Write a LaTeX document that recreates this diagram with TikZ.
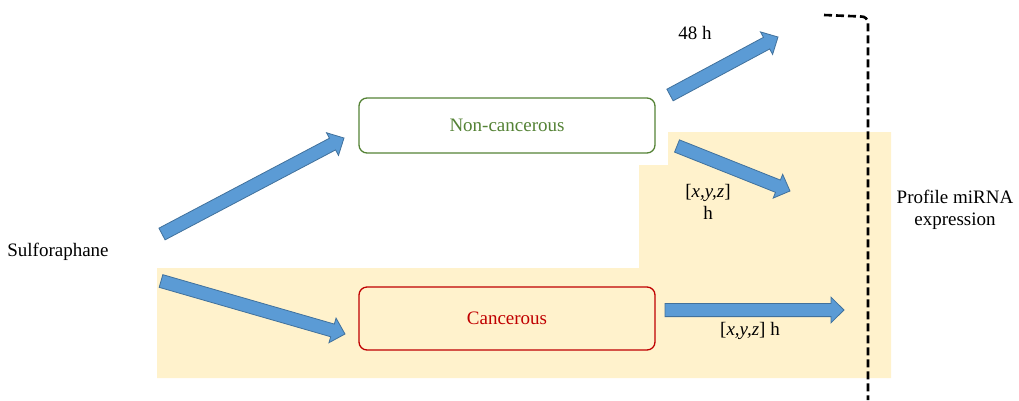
\documentclass[tikz,border=0pt]{standalone}
\usepackage{fontspec}
\setmainfont{Liberation Serif}
\usetikzlibrary{calc}
\definecolor{arrfill}{HTML}{5B9BD5}
\definecolor{arrline}{HTML}{41719C}
\definecolor{bgyellow}{HTML}{FFF2CC}
\definecolor{boxgreen}{HTML}{548235}
\definecolor{boxred}{HTML}{C00000}
\newcommand{\blockarr}[2]{%
  \coordinate (tmpH) at ($(#2)!13pt!(#1)$);
  \filldraw[blockarrow]
    ($(#1)!6.6pt!90:(#2)$) -- ($(tmpH)!6.6pt!90:(#2)$) -- ($(tmpH)!12.8pt!90:(#2)$)
    -- (#2) -- ($(tmpH)!12.8pt!-90:(#2)$) -- ($(tmpH)!6.6pt!-90:(#2)$)
    -- ($(#1)!6.6pt!-90:(#2)$) -- cycle;}
\begin{document}
\begin{tikzpicture}[x=1pt,y=-1pt,
  every node/.style={font=\fontsize{19}{22.5}\selectfont},
  blockarrow/.style={fill=arrfill,draw=arrline,line width=0.8pt,line join=miter},
  stagebox/.style={draw,rounded corners=8pt,line width=1.3pt,minimum width=296pt,inner sep=0pt},
  label/.style={align=center,inner sep=0pt},
  bracket/.style={draw=black,line width=2.6pt,dash pattern=on 8pt off 4pt}]
\useasboundingbox (0,0) rectangle (1019,400);
% background region
\fill[bgyellow] (668,132) -- (891,132) -- (891,378) -- (157,378) -- (157,268)
  -- (639,268) -- (639,165) -- (668,165) -- cycle;
% bracket
\draw[bracket] (824,15) -- (861,16.5) to[out=5,in=90] (868,23) -- (868,400);
% boxes
\node[stagebox,draw=boxgreen,text=boxgreen,minimum height=55pt] (noncanc) at (507,125.5) {Non-cancerous};
\node[stagebox,draw=boxred,text=boxred,minimum height=63pt] (canc) at (507,318.5) {Cancerous};
% texts
\node[label] (sulf) at (58,252) {Sulforaphane};
\node[label] (t48) at (695,33) {48 h};
\node[label] (txyz1) at (708,202) {[\textit{x,y,z}]\\h};
\node[label] (txyz2) at (750,331) {[\textit{x,y,z}] h};
\node[label] (prof) at (955,210) {Profile miRNA\\expression};
% arrow end points
\coordinate (a1s) at (162,234); \coordinate (a1e) at (344,138);
\coordinate (a2s) at (161,281); \coordinate (a2e) at (345,334);
\coordinate (a3s) at (670,95);  \coordinate (a3e) at (778,37);
\coordinate (a4s) at (677,146); \coordinate (a4e) at (790,191);
\coordinate (a5s) at (665,310); \coordinate (a5e) at (844,310);
\blockarr{a1s}{a1e}
\blockarr{a2s}{a2e}
\blockarr{a3s}{a3e}
\blockarr{a4s}{a4e}
\blockarr{a5s}{a5e}
\end{tikzpicture}
\end{document}
